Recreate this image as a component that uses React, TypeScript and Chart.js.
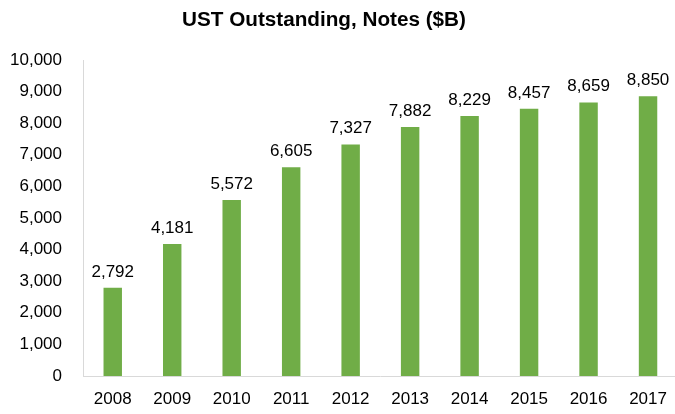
import React, { useEffect, useRef } from "react";
import { Chart, registerables } from "chart.js";

Chart.register(...registerables);

const categories = ["2008", "2009", "2010", "2011", "2012", "2013", "2014", "2015", "2016", "2017"];
const notesOutstanding = [2792, 4181, 5572, 6605, 7327, 7882, 8229, 8457, 8659, 8850];
const titleText = "UST Outstanding, Notes ($B)";

const FONT = "'Liberation Sans', Arial, sans-serif";

const labelPlugin = {
  id: "barLabelsAndTitle",
  afterDatasetsDraw(chart: any) {
    const ctx = chart.ctx;
    const meta = chart.getDatasetMeta(0);
    ctx.save();
    ctx.fillStyle = "#000";
    ctx.font = `17px ${FONT}`;
    ctx.textAlign = "center";
    ctx.textBaseline = "alphabetic";
    meta.data.forEach((bar: any, i: number) => {
      const v = notesOutstanding[i];
      ctx.fillText(v.toLocaleString("en-US"), bar.x, bar.y - 11);
    });
    ctx.font = `bold 20.7px ${FONT}`;
    ctx.fillText(titleText, 324, 26);
    ctx.restore();
  },
};

export default function App() {
  const ref = useRef<HTMLCanvasElement | null>(null);
  useEffect(() => {
    document.body.style.margin = "0";
    document.body.style.overflow = "hidden";
    const chart = new Chart(ref.current as HTMLCanvasElement, {
      type: "bar",
      data: {
        labels: categories,
        datasets: [
          {
            data: notesOutstanding,
            backgroundColor: "#70AD47",
            barPercentage: 0.31,
            categoryPercentage: 1,
          },
        ],
      },
      options: {
        animation: false,
        responsive: false,
        layout: { padding: { top: 60, left: 0, right: 1, bottom: 0 } },
        plugins: { legend: { display: false }, tooltip: { enabled: false }, title: { display: false } },
        scales: {
          x: {
            grid: { display: false, drawTicks: false },
            border: { display: true, color: "#d9d9d9", width: 1 },
            ticks: { color: "#000", font: { family: FONT, size: 17 }, padding: 13 },
            afterFit: (s: any) => {
              s.height = 38;
            },
          },
          y: {
            min: 0,
            max: 10000,
            grid: { display: false, drawTicks: false },
            border: { display: true, color: "#d9d9d9", width: 1 },
            ticks: {
              stepSize: 1000,
              color: "#000",
              font: { family: FONT, size: 17 },
              padding: 21,
              callback: (v: any) => Number(v).toLocaleString("en-US"),
            },
            afterFit: (s: any) => {
              s.width = 83;
            },
          },
        },
      },
      plugins: [labelPlugin],
    });
    return () => chart.destroy();
  }, []);
  return (
    <div style={{ width: 680, height: 414, overflow: "hidden" }}>
      <canvas ref={ref} width={680} height={414} style={{ display: "block" }} />
    </div>
  );
}
